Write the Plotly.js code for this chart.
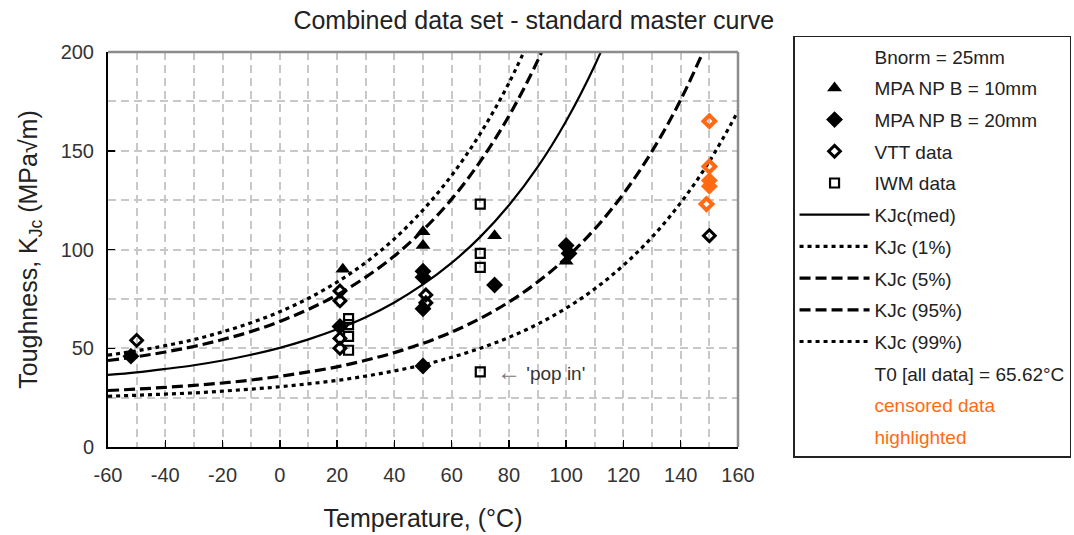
<!DOCTYPE html>
<html><head><meta charset="utf-8">
<script src="https://cdn.plot.ly/plotly-3.0.1.min.js"></script>
<style>html,body{margin:0;padding:0;background:#fff;} #chart{width:1074px;height:535px;}</style>
</head><body><div id="chart"></div>
<script>
// Master-curve lines, temperatures in °C
const CURVE_TEMPS = [-60,-50,-40,-30,-20,-10,0,10,20,30,40,50,60,70,80,90,100,110,120,130,140,150,160];
const KJC_MED = [36.5,37.8,39.5,41.4,43.8,46.7,50.2,54.5,59.6,65.7,73.2,82.3,93.2,106.4,122.4,141.7,165.1,193.3,227.5];
const KJC_1   = [25.7,26.2,26.8,27.4,28.3,29.3,30.5,32.0,33.7,35.9,38.5,41.6,45.4,50.0,55.5,62.2,70.3,80.1,92.0,106.3,123.7,144.6,170.0];
const KJC_5   = [28.6,29.3,30.2,31.2,32.4,33.9,35.8,38.0,40.6,43.9,47.8,52.5,58.2,65.1,73.4,83.5,95.7,110.4,128.2,149.8,175.8,207.3];
const KJC_95  = [43.8,45.7,48.1,50.9,54.4,58.5,63.6,69.7,77.0,86.0,96.7,109.8,125.5,144.6,167.6,195.5,229.2];
const KJC_99  = [46.5,48.7,51.3,54.4,58.3,62.9,68.5,75.3,83.5,93.4,105.4,120.0,137.5,158.7,184.3,215.4];

// Test data
const MPA10_T = [22, 50, 50, 75, 100];
const MPA10_K = [90, 109, 102, 107, 94];
const MPA20_T = [-52, 21, 50, 50, 50, 50, 75, 100, 101];
const MPA20_K = [46, 61, 89, 86, 70, 41, 82, 102, 98];
const VTT_T = [-50, 21, 21, 21, 21, 51, 51, 150];
const VTT_K = [54, 79, 74, 55, 50, 77, 73, 107];
const IWM_T = [24, 24, 24, 24, 70, 70, 70, 70];
const IWM_K = [65, 62, 56, 49, 123, 98, 91, 38];
// Censored data (highlighted)
const CENS_OPEN_T = [150, 150, 149];
const CENS_OPEN_K = [165, 142, 123];
const CENS_FILL_T = [150, 150];
const CENS_FILL_K = [135, 132];

const X_TICKS = [-60,-40,-20,0,20,40,60,80,100,120,140,160];
const Y_TICKS = [0,50,100,150,200];

const ORANGE = '#ff6a13';
const FONT = 'Liberation Sans, Arial, sans-serif';

function textOnly(name, grp) {
  return {x:[null], y:[null], type:'scatter', mode:'lines', name:name, legendgroup:grp,
          line:{color:'rgba(0,0,0,0)', width:0}, hoverinfo:'skip', showlegend:true};
}
function curve(vals, name, dash, width, grp) {
  return {x:CURVE_TEMPS.slice(0, vals.length), y:vals, type:'scatter', mode:'lines', name:name,
          legendgroup:grp, line:{color:'#000', width:width, dash:dash, shape:'spline', smoothing:1}};
}

const traces = [
  textOnly('Bnorm = 25mm', 'g0'),
  {x:MPA10_T, y:MPA10_K, type:'scatter', mode:'markers', name:'MPA NP B = 10mm', legendgroup:'g1',
   marker:{symbol:'triangle-up', size:13, color:'#000'}},
  {x:MPA20_T, y:MPA20_K, type:'scatter', mode:'markers', name:'MPA NP B = 20mm', legendgroup:'g2',
   marker:{symbol:'diamond', size:13, color:'#000'}},
  {x:VTT_T, y:VTT_K, type:'scatter', mode:'markers', name:'VTT data', legendgroup:'g3',
   marker:{symbol:'diamond-open', size:9, color:'#000', line:{width:3, color:'#000'}}},
  {x:IWM_T, y:IWM_K, type:'scatter', mode:'markers', name:'IWM data', legendgroup:'g4',
   marker:{symbol:'square-open', size:9, color:'#000', line:{width:2.2, color:'#000'}}},
  curve(KJC_MED, 'KJc(med)', 'solid', 2.2, 'g5'),
  curve(KJC_1, 'KJc (1%)', '4px,4px', 3.2, 'g6'),
  curve(KJC_5, 'KJc (5%)', '11px,5px', 3.2, 'g7'),
  curve(KJC_95, 'KJc (95%)', '11px,5px', 3.2, 'g8'),
  curve(KJC_99, 'KJc (99%)', '4px,4px', 3.2, 'g9'),
  textOnly('T0 [all data] = 65.62°C', 'g10'),
  textOnly('<span style="color:' + ORANGE + '">censored data</span>', 'g11'),
  textOnly('<span style="color:' + ORANGE + '">highlighted</span>', 'g12'),
  {x:CENS_OPEN_T, y:CENS_OPEN_K, type:'scatter', mode:'markers', showlegend:false,
   marker:{symbol:'diamond-open', size:9, color:ORANGE, line:{width:4, color:ORANGE}}},
  {x:CENS_FILL_T, y:CENS_FILL_K, type:'scatter', mode:'markers', showlegend:false,
   marker:{symbol:'diamond', size:13, color:ORANGE}}
];

const GRID = '#c8c8c8';
const layout = {
  width:1074, height:535,
  margin:{l:108, r:336, t:52, b:88},
  paper_bgcolor:'#fff', plot_bgcolor:'#fff',
  font:{family:FONT, color:'#222', size:19},
  showlegend:true,
  title:{text:'Combined data set - standard master curve', font:{family:FONT, size:25, color:'#222'},
         x:0.497, xref:'container', xanchor:'center', y:0.963, yref:'container', yanchor:'middle'},
  xaxis:{range:[-60,160], tickmode:'array', tickvals:X_TICKS, ticktext:X_TICKS.map(String),
         ticks:'inside', ticklen:7, tickwidth:1.5, tickcolor:'#000',
         showline:true, linecolor:'#000', linewidth:2, zeroline:false,
         showgrid:true, gridcolor:GRID, gridwidth:2, griddash:'8px,5px',
         minor:{tick0:-60, dtick:10, showgrid:true, gridcolor:GRID, gridwidth:2, griddash:'8px,5px'},
         tickfont:{family:FONT, size:20, color:'#333'}, ticklabelstandoff:9,
         title:{text:'Temperature, (°C)', font:{family:FONT, size:25, color:'#222'}, standoff:24}},
  yaxis:{range:[0,200], tickmode:'array', tickvals:Y_TICKS, ticktext:Y_TICKS.map(String),
         ticks:'inside', ticklen:7, tickwidth:1.5, tickcolor:'#000',
         showline:true, linecolor:'#000', linewidth:2, zeroline:false,
         showgrid:true, gridcolor:GRID, gridwidth:2, griddash:'8px,5px',
         minor:{tick0:0, dtick:25, showgrid:true, gridcolor:GRID, gridwidth:2, griddash:'8px,5px'},
         tickfont:{family:FONT, size:20, color:'#333'}, ticklabelstandoff:8,
         title:{text:'Toughness, K<sub>Jc</sub> (MPa√m)', font:{family:FONT, size:25, color:'#222'}, standoff:16}},
  legend:{x:0.7384, xref:'container', xanchor:'left', y:0.933, yref:'container', yanchor:'top',
          maxheight:480,
          bgcolor:'#fff', bordercolor:'#222', borderwidth:1.5,
          font:{family:FONT, size:19, color:'#222'}, itemwidth:70, tracegroupgap:4,
          traceorder:'grouped', itemclick:false, itemdoubleclick:false},
  shapes:[
    {type:'line', xref:'paper', yref:'paper', x0:0, x1:1, y0:1, y1:1, line:{color:'#8c8c8c', width:2.5}, layer:'above'},
    {type:'line', xref:'paper', yref:'paper', x0:1, x1:1, y0:0, y1:1, line:{color:'#8c8c8c', width:2.5}, layer:'above'}
  ],
  annotations:[
    {x:75, y:38, xref:'x', yref:'y', xanchor:'left', yanchor:'middle', showarrow:false,
     text:'<span style="color:#777;font-size:24px">←</span> \'pop in\'', font:{family:FONT, size:19, color:'#333'}}
  ]
};

Plotly.newPlot('chart', traces, layout, {displayModeBar:false, staticPlot:true});
</script>
</body></html>
